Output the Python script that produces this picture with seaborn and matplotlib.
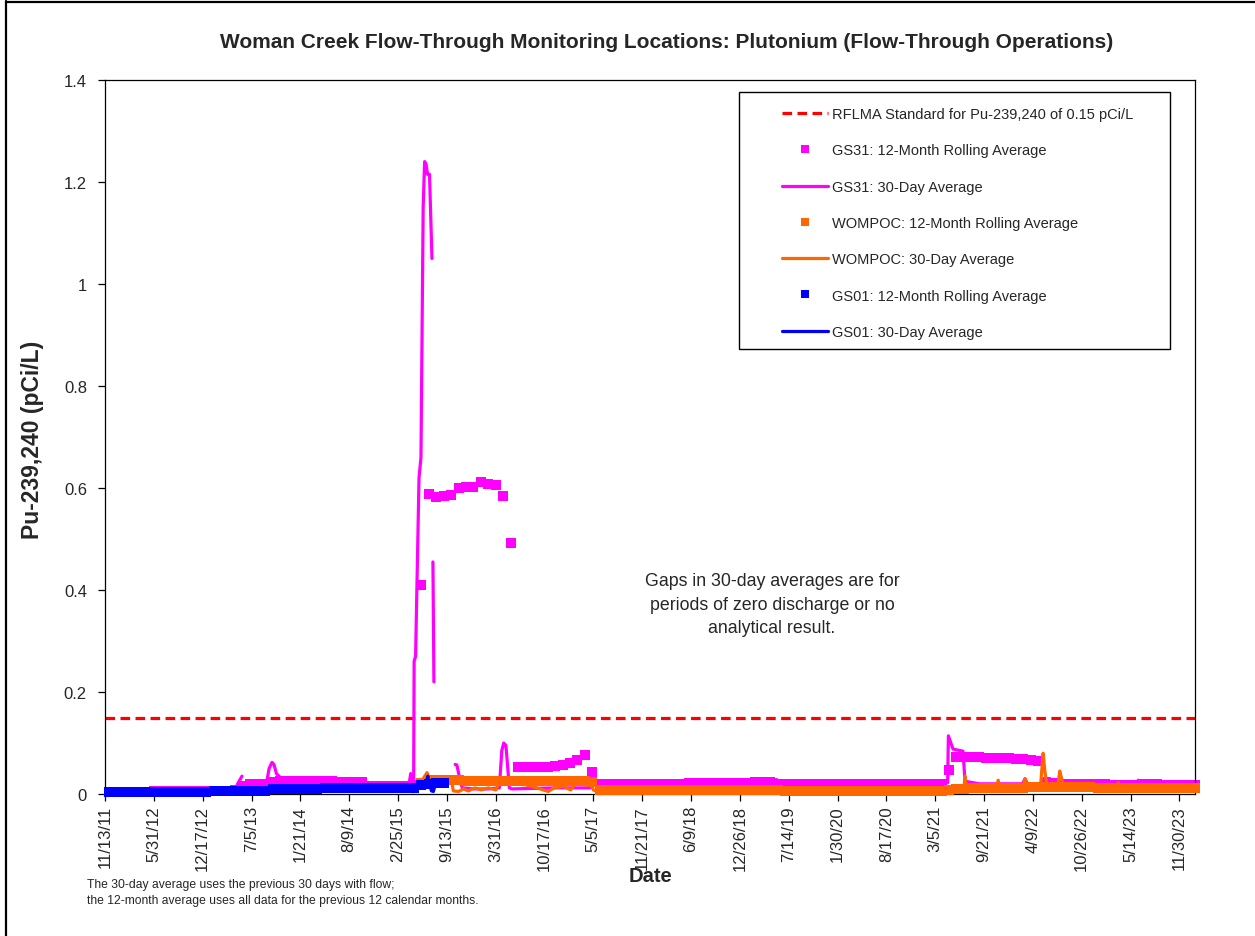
import numpy as np
import pandas as pd
import matplotlib
matplotlib.use("Agg")
import matplotlib.pyplot as plt
from matplotlib.lines import Line2D
from matplotlib.patches import Rectangle
import seaborn as sns

# ---------------- data ----------------
standard_value = 0.15

x_tick_labels = ["11/13/11", "5/31/12", "12/17/12", "7/5/13", "1/21/14", "8/9/14", "2/25/15",
                 "9/13/15", "3/31/16", "10/17/16", "5/5/17", "11/21/17", "6/9/18", "12/26/18",
                 "7/14/19", "1/30/20", "8/17/20", "3/5/21", "9/21/21", "4/9/22", "10/26/22",
                 "5/14/23", "11/30/23"]
y_tick_values = [0, 0.2, 0.4, 0.6, 0.8, 1.0, 1.2, 1.4]
y_tick_labels = ["0", "0.2", "0.4", "0.6", "0.8", "1", "1.2", "1.4"]
x_start = "2011-11-13"
x_end = "2024-02-02"

# 12-month rolling averages, one value per month end
gs31_roll_start = "2011-11"
gs31_roll = [
    0.004, 0.004,
    0.004, 0.004, 0.004, 0.004, 0.005, 0.005, 0.005, 0.005, 0.005, 0.005, 0.005, 0.005,
    0.005, 0.005, 0.006, 0.008, 0.015, 0.019, 0.019, 0.020, 0.024, 0.025, 0.026, 0.026,
    0.026, 0.026, 0.025, 0.025, 0.025, 0.024, 0.024, 0.024, 0.023, 0.016, 0.016, 0.016,
    0.016, 0.016, 0.016, 0.017, 0.410, 0.588, 0.583, 0.584, 0.586, 0.600, 0.601, 0.602,
    0.612, 0.608, 0.606, 0.584, 0.493, 0.052, 0.052, 0.052, 0.052, 0.053, 0.054, 0.057,
    0.060, 0.066, 0.076, 0.043, 0.020, 0.020, 0.020, 0.020, 0.020, 0.020, 0.020, 0.020,
    0.020, 0.020, 0.020, 0.020, 0.021, 0.022, 0.022, 0.022, 0.022, 0.022, 0.022, 0.022,
    0.022, 0.023, 0.024, 0.024, 0.019, 0.019, 0.019, 0.019, 0.019, 0.019, 0.019, 0.019,
    0.019, 0.019, 0.019, 0.019, 0.019, 0.019, 0.019, 0.019, 0.019, 0.019, 0.019, 0.019,
    0.019, 0.019, 0.020, 0.048, 0.073, 0.073, 0.072, 0.072, 0.071, 0.071, 0.070, 0.070,
    0.069, 0.068, 0.067, 0.064, 0.024, 0.022, 0.020, 0.020, 0.019, 0.019, 0.019, 0.019,
    0.019, 0.018, 0.018, 0.018, 0.018, 0.019, 0.019, 0.019, 0.018, 0.018, 0.018, 0.018,
    0.018,
]

wompoc_roll_start = "2015-05"
wompoc_roll = [
    0.022, 0.027, 0.027, 0.027, 0.027, 0.027, 0.026, 0.026,
    0.026, 0.026, 0.026, 0.026, 0.026, 0.025, 0.025, 0.025, 0.025, 0.025, 0.025, 0.025,
    0.025, 0.025, 0.025, 0.024, 0.007, 0.007, 0.007, 0.007, 0.007, 0.007, 0.007, 0.007,
    0.007, 0.007, 0.007, 0.007, 0.007, 0.007, 0.007, 0.007, 0.007, 0.007, 0.007, 0.007,
    0.007, 0.007, 0.007, 0.007, 0.007, 0.005, 0.005, 0.005, 0.005, 0.005, 0.005, 0.005,
    0.005, 0.005, 0.005, 0.005, 0.005, 0.005, 0.005, 0.005, 0.005, 0.005, 0.005, 0.005,
    0.005, 0.005, 0.006, 0.008, 0.009, 0.010, 0.011, 0.011, 0.012, 0.012, 0.012, 0.012,
    0.012, 0.012, 0.013, 0.013, 0.014, 0.014, 0.014, 0.013, 0.013, 0.013, 0.013, 0.012,
    0.012, 0.012, 0.012, 0.012, 0.012, 0.012, 0.012, 0.012, 0.012, 0.012, 0.012, 0.012,
    0.012,
]

gs01_roll_start = "2011-11"
gs01_roll = [
    0.004, 0.004,
    0.004, 0.004, 0.004, 0.004, 0.004, 0.004, 0.004, 0.004, 0.004, 0.004, 0.004, 0.004,
    0.006, 0.006, 0.006, 0.006, 0.006, 0.006, 0.006, 0.006, 0.010, 0.010, 0.010, 0.010,
    0.010, 0.010, 0.010, 0.011, 0.011, 0.011, 0.011, 0.011, 0.011, 0.011, 0.011, 0.011,
    0.011, 0.011, 0.011, 0.012, 0.018, 0.020, 0.021, 0.021,
]

# 30-day averages (NaN marks a gap in the line)
gs31_30d_dates = [
    "2011-11-13", "2012-06-01", "2013-01-01", "2013-04-01", "2013-04-15",
    "2013-05-07", "2013-05-27", "2013-05-30",
    "2013-06-01", "2013-09-05", "2013-09-15", "2013-09-27", "2013-10-05", "2013-10-15",
    "2013-11-01", "2014-01-01", "2014-04-01", "2014-07-01", "2014-09-20", "2014-09-25",
    "2015-03-15", "2015-04-10", "2015-04-18", "2015-04-26", "2015-04-30",
    "2015-05-02", "2015-05-08", "2015-05-22", "2015-05-30", "2015-06-08", "2015-06-14",
    "2015-06-20", "2015-06-26", "2015-07-04", "2015-07-14", "2015-07-16",
    "2015-07-18", "2015-07-22", "2015-07-25",
    "2015-10-17", "2015-10-24", "2015-11-05", "2015-11-15", "2016-01-01", "2016-03-01",
    "2016-04-15", "2016-04-25", "2016-05-03", "2016-05-12", "2016-05-26", "2016-06-05",
    "2016-12-01", "2017-04-20", "2017-05-01", "2018-05-10", "2018-05-20", "2019-03-01",
    "2019-03-10", "2019-05-27", "2019-06-05", "2021-03-01", "2021-04-25",
    "2021-04-28", "2021-05-17", "2021-06-27", "2021-07-05", "2021-09-01", "2022-02-25",
    "2022-03-08", "2022-03-18", "2022-05-10", "2022-05-20", "2022-06-20", "2022-07-01",
    "2023-06-05", "2023-06-14", "2023-06-22", "2024-01-31",
]
gs31_30d_vals = [
    0.004, 0.004, 0.005, 0.006, np.nan,
    0.018, 0.035, np.nan,
    0.018, 0.022, 0.050, 0.062, 0.058, 0.040,
    0.032, 0.030, 0.028, 0.026, 0.025, 0.015,
    0.014, 0.015, 0.040, 0.020, 0.020,
    0.260, 0.270, 0.620, 0.660, 1.150, 1.240,
    1.235, 1.215, 1.215, 1.050, np.nan,
    0.455, 0.220, np.nan,
    0.058, 0.057, 0.030, 0.012, 0.010, 0.010,
    0.012, 0.085, 0.100, 0.095, 0.012, 0.010,
    0.012, 0.012, 0.020, 0.020, 0.025, 0.025,
    0.028, 0.028, 0.021, 0.020, 0.022,
    0.114, 0.088, 0.084, 0.025, 0.020, 0.020,
    0.030, 0.020, 0.020, 0.030, 0.027, 0.020,
    0.019, 0.027, 0.019, 0.019,
]

wompoc_30d_dates = [
    "2015-04-28", "2015-05-06", "2015-05-20", "2015-06-08",
    "2015-06-24", "2015-07-05", "2015-09-01", "2015-10-01", "2015-10-10", "2015-11-01",
    "2015-11-20", "2015-12-10", "2016-01-05", "2016-02-01", "2016-03-01", "2016-04-01",
    "2016-04-20", "2016-05-20", "2016-06-05", "2016-08-01", "2016-09-15", "2016-11-01",
    "2016-11-25", "2017-01-01", "2017-02-01", "2017-02-20", "2017-04-01", "2017-04-20",
    "2017-05-05", "2017-05-15", "2019-05-01", "2021-03-01", "2021-05-01", "2021-07-01",
    "2021-07-05", "2021-07-10", "2021-11-10", "2021-11-18", "2021-11-25", "2022-02-25",
    "2022-03-08", "2022-03-20", "2022-05-10", "2022-05-16", "2022-05-21", "2022-05-28",
    "2022-06-05", "2022-07-20", "2022-07-28", "2022-08-05", "2022-08-10", "2023-03-15",
    "2023-03-25", "2023-04-05", "2024-01-31",
]
wompoc_30d_vals = [
    0.004, 0.012, 0.025, 0.030,
    0.042, 0.028, 0.027, 0.026, 0.006, 0.005,
    0.010, 0.006, 0.012, 0.008, 0.012, 0.008,
    0.028, 0.030, 0.020, 0.018, 0.012, 0.005,
    0.012, 0.015, 0.008, 0.020, 0.018, 0.025,
    0.008, 0.006, 0.006, 0.005, 0.009, 0.012,
    0.035, 0.014, 0.012, 0.027, 0.012, 0.012,
    0.030, 0.012, 0.012, 0.050, 0.080, 0.045,
    0.018, 0.015, 0.045, 0.030, 0.014, 0.012,
    0.022, 0.012, 0.012,
]

gs01_30d_dates = [
    "2011-11-13", "2013-01-01", "2013-01-10", "2013-09-01", "2013-09-10", "2015-04-25",
    "2015-05-10", "2015-06-20", "2015-06-27", "2015-07-03", "2015-07-12", "2015-07-20",
    "2015-07-27", "2015-08-31",
]
gs01_30d_vals = [
    0.004, 0.004, 0.006, 0.006, 0.010, 0.012,
    0.018, 0.020, 0.035, 0.020, 0.006, 0.005,
    0.018, 0.020,
]

# ---------------- helpers ----------------
def month_ends(start, n):
    return pd.date_range(start=pd.Period(start, "M").to_timestamp(), periods=n, freq="MS") \
        + pd.offsets.MonthEnd(0)


def line_frame(dates, vals):
    df = pd.DataFrame({"date": pd.to_datetime(dates), "val": vals})
    df["seg"] = df["val"].isna().cumsum()
    return df.dropna()


MAGENTA = "#FF00FF"
ORANGE = "#FF6600"
BLUE = "#0000FF"
RED = "#FF0000"

FONT = ["Liberation Sans", "Arial", "DejaVu Sans"]
sns.set_theme(style="white")
plt.rcParams["font.family"] = FONT

fig = plt.figure(figsize=(12.55, 9.37), dpi=100)
fig.patch.set_facecolor("white")
ax = fig.add_axes([105 / 1255, 1 - 795 / 937, 1090 / 1255, 714 / 937])

marker_size = 52
line_w = 2.3

# standard line
ax.axhline(standard_value, color=RED, lw=2.3, dashes=(3.0, 1.7), dash_capstyle="butt", zorder=1)

series = [
    (gs31_roll_start, gs31_roll, gs31_30d_dates, gs31_30d_vals, MAGENTA),
    (wompoc_roll_start, wompoc_roll, wompoc_30d_dates, wompoc_30d_vals, ORANGE),
    (gs01_roll_start, gs01_roll, gs01_30d_dates, gs01_30d_vals, BLUE),
]
z = 2
for rstart, rvals, ldates, lvals, col in series:
    rdf = pd.DataFrame({"date": month_ends(rstart, len(rvals)), "val": rvals})
    sns.scatterplot(data=rdf, x="date", y="val", marker="s", s=marker_size, color=col,
                    edgecolor="none", linewidth=0, ax=ax, zorder=z, legend=False, clip_on=False)
    z += 1
    ldf = line_frame(ldates, lvals)
    sns.lineplot(data=ldf, x="date", y="val", units="seg", estimator=None, color=col,
                 lw=line_w, ax=ax, zorder=z, legend=False, solid_joinstyle="round",
                 solid_capstyle="round")
    z += 1

# axes
ax.set_xlim(pd.Timestamp(x_start), pd.Timestamp(x_end))
ax.set_ylim(0, 1.4)
tick_dates = pd.to_datetime(x_tick_labels, format="%m/%d/%y")
ax.set_xticks(tick_dates)
ax.set_xticklabels(x_tick_labels, rotation=90, fontsize=12)
ax.set_yticks(y_tick_values)
ax.set_yticklabels(y_tick_labels, fontsize=12)
ax.tick_params(axis="both", direction="out", length=5, width=0.9, color="black",
               bottom=True, left=True)
ax.tick_params(axis="y", pad=8)
ax.tick_params(axis="x", pad=3)
for sp in ax.spines.values():
    sp.set_visible(True)
    sp.set_color("black")
    sp.set_linewidth(0.9)
ax.set_xlabel("")
ax.set_ylabel("")
ax.grid(False)

# legend box and entries
ax.add_patch(Rectangle(((739 - 105) / 1090, (795 - 350) / 714), 431 / 1090, 257 / 714,
                       transform=ax.transAxes, facecolor="white", edgecolor="black",
                       lw=1.0, zorder=10))
handles = [
    Line2D([], [], color=RED, lw=2.3, dashes=(3.0, 1.7), dash_capstyle="butt"),
    Line2D([], [], color=MAGENTA, marker="s", markersize=5.5, linestyle="none", markeredgewidth=0),
    Line2D([], [], color=MAGENTA, lw=2.3),
    Line2D([], [], color=ORANGE, marker="s", markersize=5.5, linestyle="none", markeredgewidth=0),
    Line2D([], [], color=ORANGE, lw=2.3),
    Line2D([], [], color=BLUE, marker="s", markersize=5.5, linestyle="none", markeredgewidth=0),
    Line2D([], [], color=BLUE, lw=2.3),
]
labels = [
    "RFLMA Standard for Pu-239,240 of 0.15 pCi/L",
    "GS31: 12-Month Rolling Average",
    "GS31: 30-Day Average",
    "WOMPOC: 12-Month Rolling Average",
    "WOMPOC: 30-Day Average",
    "GS01: 12-Month Rolling Average",
    "GS01: 30-Day Average",
]
leg = ax.legend(handles, labels, loc="upper left",
                bbox_to_anchor=((782 - 105) / 1090, (795 - 108) / 714),
                frameon=False, fontsize=10.5, handlelength=3.15, handletextpad=0.3,
                labelspacing=1.53, borderpad=0, borderaxespad=0, numpoints=1)
leg.set_zorder(11)

# texts
fig.text(667 / 1255, 1 - 43 / 937,
         "Woman Creek Flow-Through Monitoring Locations: Plutonium (Flow-Through Operations)",
         ha="center", va="center", fontsize=15, fontweight="bold")
fig.text(33 / 1255, 1 - 440 / 937, "Pu-239,240 (pCi/L)", rotation=90, ha="center",
         va="center", fontsize=16.5, fontweight="bold")
fig.text(651 / 1255, 1 - 877 / 937, "Date", ha="center", va="center", fontsize=14.5,
         fontweight="bold")
fig.text(87 / 1255, 1 - 893 / 937,
         "The 30-day average uses the previous 30 days with flow;\n"
         "the 12-month average uses all data for the previous 12 calendar months.",
         ha="left", va="center", fontsize=8.7, linespacing=1.45)
ax.text((772 - 105) / 1090, (795 - 605) / 714,
        "Gaps in 30-day averages are for\nperiods of zero discharge or no\nanalytical result.",
        transform=ax.transAxes, ha="center", va="center", fontsize=12.8, linespacing=1.5)

# outer border (left and top edges)
fig.add_artist(Line2D([6 / 1255, 6 / 1255], [0, 1 - 2 / 937], transform=fig.transFigure,
                      color="black", lw=1.6))
fig.add_artist(Line2D([6 / 1255, 1], [1 - 2.5 / 937, 1 - 2.5 / 937], transform=fig.transFigure,
                      color="black", lw=1.6))

fig.savefig("out.png", dpi=100, facecolor="white")
